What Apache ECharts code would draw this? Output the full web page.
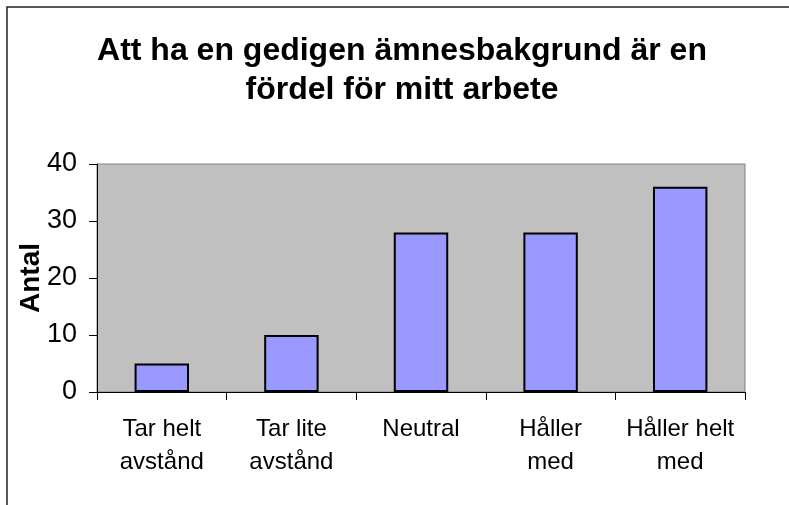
<!DOCTYPE html>
<html>
<head>
<meta charset="utf-8">
<script src="https://cdn.jsdelivr.net/npm/echarts@6/dist/echarts.min.js"></script>
<style>
  html, body { margin: 0; padding: 0; background: #fff; }
  #main { width: 789px; height: 505px; }
</style>
</head>
<body>
<div id="main"></div>
<script>
// data
const categories = ['Tar helt\navstånd', 'Tar lite\navstånd', 'Neutral', 'Håller\nmed', 'Håller helt\nmed'];
const antal = [5, 10, 28, 28, 36];
const yTicks = [0, 10, 20, 30, 40];

const font = '"Liberation Sans", Arial, sans-serif';

const chart = echarts.init(document.getElementById('main'));

chart.setOption({
  animation: false,
  backgroundColor: '#fff',
  // outer frame of the chart object
  graphic: [{
    type: 'rect',
    shape: { x: 7, y: 7, width: 820, height: 540 },
    style: { fill: 'none', stroke: '#222', lineWidth: 1.5 },
    silent: true
  }],
  title: {
    text: 'Att ha en gedigen ämnesbakgrund är en\nfördel för mitt arbete',
    left: 397,
    top: 27,
    textAlign: 'center',
    textStyle: {
      fontFamily: font,
      fontSize: 32,
      fontWeight: 'bold',
      lineHeight: 39,
      color: '#000'
    }
  },
  grid: {
    left: 97,
    top: 164,
    right: 44,
    bottom: 113,
    show: true,
    backgroundColor: '#C0C0C0',
    borderColor: '#808080',
    borderWidth: 1
  },
  xAxis: {
    type: 'category',
    data: categories,
    axisLine: { lineStyle: { color: '#000', width: 1 } },
    axisTick: { show: true, length: 8, lineStyle: { color: '#000' } },
    axisLabel: {
      interval: 0,
      margin: 21,
      fontFamily: font,
      fontSize: 24,
      lineHeight: 33,
      color: '#000'
    }
  },
  yAxis: {
    type: 'value',
    min: yTicks[0],
    max: yTicks[yTicks.length - 1],
    interval: 10,
    name: 'Antal',
    nameLocation: 'middle',
    nameRotate: 90,
    nameGap: 52,
    nameMoveOverlap: false,
    nameTextStyle: {
      fontFamily: font,
      fontSize: 28,
      fontWeight: 'bold',
      color: '#000'
    },
    axisLine: { show: true, lineStyle: { color: '#000', width: 1 } },
    axisTick: { show: true, length: 8, lineStyle: { color: '#000' } },
    splitLine: { show: false },
    axisLabel: {
      margin: 20,
      fontFamily: font,
      fontSize: 27,
      color: '#000'
    }
  },
  series: [{
    type: 'bar',
    data: antal,
    barWidth: '42%',
    itemStyle: {
      color: '#9999FF',
      borderColor: '#000',
      borderWidth: 2
    }
  }]
});
</script>
</body>
</html>
